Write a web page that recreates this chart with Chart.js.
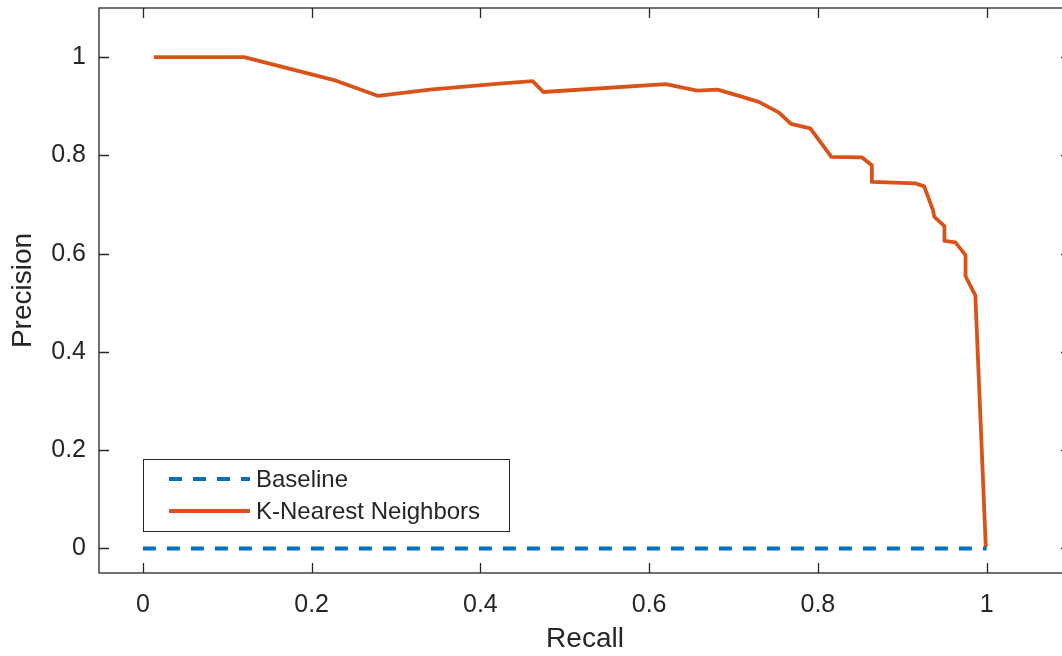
<!DOCTYPE html>
<html>
<head>
<meta charset="utf-8">
<script src="https://cdn.jsdelivr.net/npm/chart.js@4/dist/chart.umd.min.js"></script>
<style>
  html, body { margin: 0; padding: 0; background: #fff; overflow: hidden; }
  canvas { display: block; }
</style>
</head>
<body>
<canvas id="pr" width="1080" height="656"></canvas>
<script>
// precision / recall curve for the KNN classifier
var recall = [0.013, 0.12, 0.229, 0.279, 0.340, 0.4225, 0.462, 0.4746, 0.6197, 0.657,
              0.681, 0.7065, 0.730, 0.754, 0.768, 0.791, 0.816, 0.852, 0.864, 0.864,
              0.9156, 0.926, 0.9365, 0.938, 0.950, 0.950, 0.963, 0.975, 0.975, 0.9866,
              0.9886, 0.999];
var precision = [1.0, 1.0, 0.952, 0.921, 0.934, 0.946, 0.951, 0.929, 0.945, 0.932,
                 0.934, 0.921, 0.909, 0.887, 0.864, 0.855, 0.797, 0.796, 0.780, 0.746,
                 0.743, 0.737, 0.688, 0.675, 0.656, 0.626, 0.623, 0.597, 0.554, 0.515,
                 0.434, 0.003];
var baselineRecall = [0, 1];
var baselinePrecision = [0, 0];

var seriesNames = ['Baseline', 'K-Nearest Neighbors'];
var xTicks = [0, 0.2, 0.4, 0.6, 0.8, 1];
var yTicks = [0, 0.2, 0.4, 0.6, 0.8, 1];

var axisColor = '#262626';
var blue = '#0072BD';
var orange = '#D95319';
var dash = [13, 11];

function pts(xs, ys) {
    return xs.map(function (x, i) { return { x: x, y: ys[i] }; });
}

// box, inward ticks on all four sides, and the legend
var matlabAxes = {
    id: 'matlabAxes',
    afterDraw: function (chart) {
        var c = chart.ctx, a = chart.chartArea;
        var sx = chart.scales.x, sy = chart.scales.y;
        var tl = 10;
        c.save();
        c.strokeStyle = axisColor;
        c.lineWidth = 1.3;
        c.strokeRect(a.left, a.top, a.right - a.left, a.bottom - a.top);
        c.beginPath();
        xTicks.forEach(function (v) {
            var px = Math.round(sx.getPixelForValue(v)) + 0.5;
            c.moveTo(px, a.bottom); c.lineTo(px, a.bottom - tl);
            c.moveTo(px, a.top); c.lineTo(px, a.top + tl);
        });
        yTicks.forEach(function (v) {
            var py = Math.round(sy.getPixelForValue(v)) + 0.5;
            c.moveTo(a.left, py); c.lineTo(a.left + tl, py);
            c.moveTo(a.right, py); c.lineTo(a.right - tl, py);
        });
        c.stroke();

        // legend
        var lx = a.left + 44, ly = a.bottom - 114, lw = 366, lh = 72;
        c.fillStyle = '#fff';
        c.fillRect(lx, ly, lw, lh);
        c.lineWidth = 1;
        c.strokeRect(lx + 0.5, ly + 0.5, lw, lh);
        var rows = [ly + 20, ly + 52];
        var styles = [{ color: blue, dash: dash }, { color: orange, dash: [] }];
        c.font = '24px "Liberation Sans", Arial, sans-serif';
        c.textBaseline = 'middle';
        seriesNames.forEach(function (name, i) {
            c.beginPath();
            c.strokeStyle = styles[i].color;
            c.lineWidth = 4;
            c.setLineDash(styles[i].dash);
            c.moveTo(lx + 26, rows[i]);
            c.lineTo(lx + 107, rows[i]);
            c.stroke();
            c.setLineDash([]);
            c.fillStyle = axisColor;
            c.fillText(name, lx + 113, rows[i] + 1);
        });
        c.restore();
    }
};

var ctx = document.getElementById('pr').getContext('2d');
var chart = new Chart(ctx, {
    type: 'line',
    data: {
        datasets: [{
            label: seriesNames[0],
            data: pts(baselineRecall, baselinePrecision),
            borderColor: blue,
            borderWidth: 4,
            borderDash: dash,
            pointRadius: 0,
            fill: false
        }, {
            label: seriesNames[1],
            data: pts(recall, precision),
            borderColor: orange,
            borderWidth: 3.8,
            borderJoinStyle: 'round',
            pointRadius: 0,
            tension: 0,
            fill: false
        }]
    },
    options: {
        responsive: false,
        animation: false,
        layout: { padding: { left: 0, right: 9, top: 8, bottom: 0 } },
        plugins: { legend: { display: false }, tooltip: { enabled: false } },
        scales: {
            x: {
                type: 'linear',
                min: -0.052,
                max: 1.1,
                afterBuildTicks: function (s) { s.ticks = xTicks.map(function (v) { return { value: v }; }); },
                afterFit: function (s) { s.height = 83; s.paddingLeft = 0; s.paddingRight = 0; },
                grid: { display: false, drawTicks: false },
                border: { display: false },
                ticks: {
                    color: axisColor,
                    padding: 17,
                    maxRotation: 0,
                    font: { family: '"Liberation Sans", Arial, sans-serif', size: 25 },
                    callback: function (v) { return String(v); }
                },
                title: {
                    display: true,
                    text: 'Recall',
                    color: axisColor,
                    padding: { top: 0, bottom: 0 },
                    font: { family: '"Liberation Sans", Arial, sans-serif', size: 28 }
                }
            },
            y: {
                type: 'linear',
                min: -0.05,
                max: 1.1,
                afterBuildTicks: function (s) { s.ticks = yTicks.map(function (v) { return { value: v }; }); },
                afterFit: function (s) { s.width = 99; s.paddingTop = 0; s.paddingBottom = 0; },
                grid: { display: false, drawTicks: false },
                border: { display: false },
                ticks: {
                    color: axisColor,
                    padding: 13,
                    font: { family: '"Liberation Sans", Arial, sans-serif', size: 25 },
                    callback: function (v) { return String(v); }
                },
                title: {
                    display: true,
                    text: 'Precision',
                    color: axisColor,
                    padding: { top: 6, bottom: 0 },
                    font: { family: '"Liberation Sans", Arial, sans-serif', size: 28 }
                }
            }
        }
    },
    plugins: [matlabAxes]
});
</script>
</body>
</html>
